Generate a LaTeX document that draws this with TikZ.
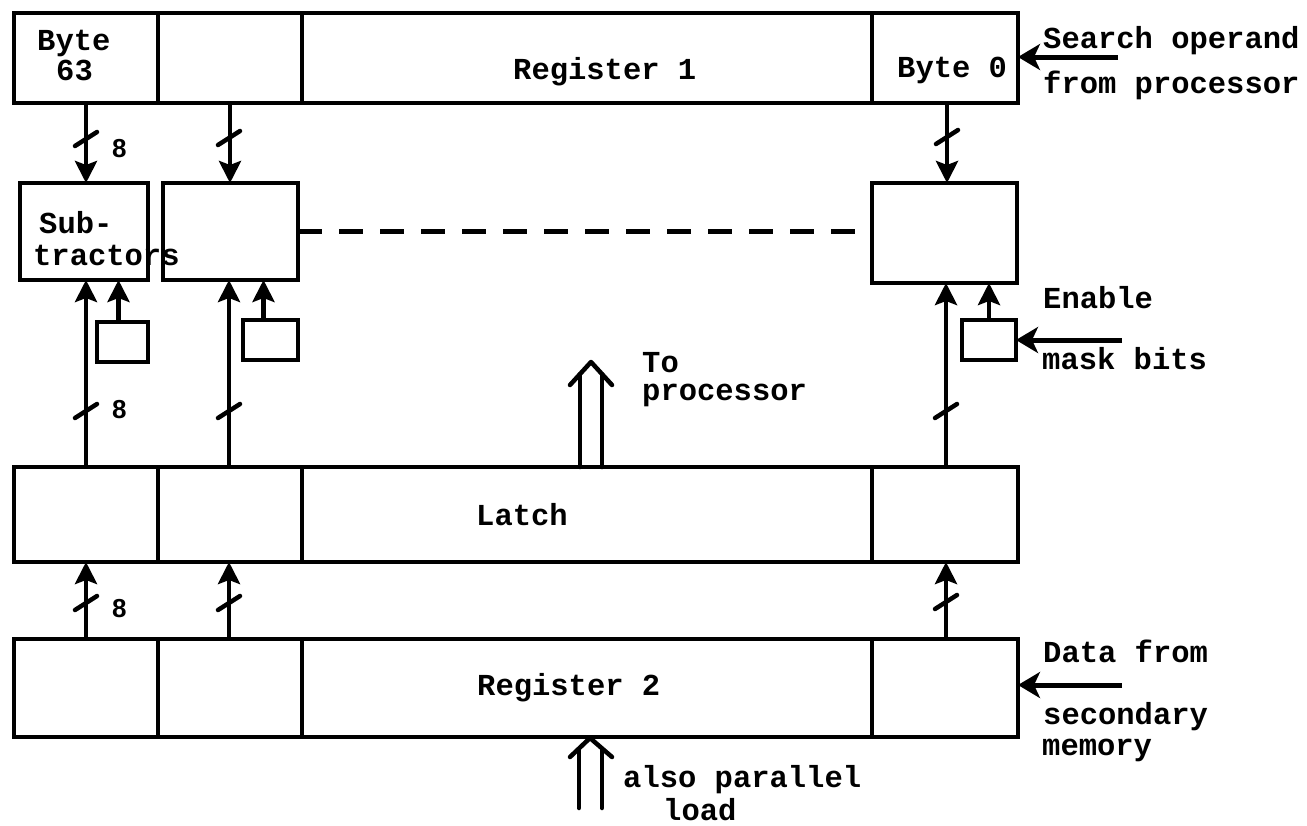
\documentclass[tikz,border=0pt]{standalone}
\usepackage{fontspec}
\setmonofont{Liberation Mono}
\newfontfamily\labfont{Liberation Sans}
\usetikzlibrary{arrows.meta,calc}
\tikzset{
 cell/.style={draw, line width=4.5pt, rectangle, inner sep=0pt, outer sep=0pt},
 bus/.style={line width=4.5pt, -{Stealth[length=22pt,width=22pt,inset=4pt]}},
 slashmark/.style={line width=4.5pt, line cap=round},
 txt/.style={font=\fontsize{30.5}{36}\selectfont\ttfamily\bfseries, inner sep=0pt, anchor=base west},
 num/.style={font=\fontsize{26}{30}\selectfont\labfont\bfseries, inner sep=0pt, anchor=base west},
 inarrow/.style={line width=5pt, -{Stealth[length=22pt,width=26pt,inset=6pt]}},
 dbl/.style={line width=4.5pt, line cap=round, line join=round},
 dashline/.style={line width=4.5pt, dash pattern=on 24pt off 17pt},
}
\begin{document}
\begin{tikzpicture}[x=1pt,y=-1pt]
\useasboundingbox (0,0) rectangle (1307,825);
% Register 1
\node[cell, minimum width=144pt, minimum height=90pt] (r1a) at (86,58) {};
\node[cell, minimum width=144pt, minimum height=90pt] (r1b) at (230,58) {};
\node[cell, minimum width=570pt, minimum height=90pt] (r1c) at (587,58) {};
\node[cell, minimum width=146pt, minimum height=90pt] (r1d) at (945,58) {};
% Latch
\node[cell, minimum width=144pt, minimum height=95pt] (la) at (86,514.5) {};
\node[cell, minimum width=144pt, minimum height=95pt] (lb) at (230,514.5) {};
\node[cell, minimum width=570pt, minimum height=95pt] (lc) at (587,514.5) {};
\node[cell, minimum width=146pt, minimum height=95pt] (ld) at (945,514.5) {};
% Register 2
\node[cell, minimum width=144pt, minimum height=98pt] (r2a) at (86,688) {};
\node[cell, minimum width=144pt, minimum height=98pt] (r2b) at (230,688) {};
\node[cell, minimum width=570pt, minimum height=98pt] (r2c) at (587,688) {};
\node[cell, minimum width=146pt, minimum height=98pt] (r2d) at (945,688) {};
% Subtractors
\node[cell, minimum width=128pt, minimum height=97pt] (s1) at (84,231.5) {};
\node[cell, minimum width=135pt, minimum height=97pt] (s2) at (230.5,231.5) {};
\node[cell, minimum width=145pt, minimum height=100pt] (s3) at (944.5,233) {};
% mask boxes
\node[cell, minimum width=51pt, minimum height=40pt] (m1) at (122.5,342) {};
\node[cell, minimum width=55pt, minimum height=40pt] (m2) at (270.5,340) {};
\node[cell, minimum width=54pt, minimum height=40pt] (m3) at (989,340) {};

% dashed line
\draw[dashline] (s2.east) -- (s2.east -| s3.west);

% Register1 -> subtractors
\draw[bus] (r1a.south) -- (r1a.south |- s1.north);
\draw[bus] (r1b.south) -- (r1b.south |- s2.north);
\draw[bus] ([xshift=2pt]r1d.south) -- ([xshift=2pt]r1d.south |- s3.north);
% Latch -> subtractors
\draw[bus] (la.north) -- (la.north |- s1.south);
\draw[bus] ([xshift=-1pt]lb.north) -- ([xshift=-1pt]lb.north |- s2.south);
\draw[bus] ([xshift=1pt]ld.north) -- ([xshift=1pt]ld.north |- s3.south);
% mask boxes -> subtractors
\draw[bus] ([xshift=-4pt]m1.north) -- ([xshift=-4pt]m1.north |- s1.south);
\draw[bus] ([xshift=-7pt]m2.north) -- ([xshift=-7pt]m2.north |- s2.south);
\draw[bus] (m3.north) -- (m3.north |- s3.south);
% Register2 -> latch
\draw[bus] (r2a.north) -- (r2a.north |- la.south);
\draw[bus] ([xshift=-1pt]r2b.north) -- ([xshift=-1pt]r2b.north |- lb.south);
\draw[bus] ([xshift=1pt]r2d.north) -- ([xshift=1pt]r2d.north |- ld.south);

% slash marks
\foreach \x/\y in {86/139, 229/138, 947/137, 86/411, 229/411, 946/411, 86/603, 229/603, 946/602}
  \draw[slashmark] (\x-11,\y+7) -- (\x+11,\y-7);

% incoming arrows
\coordinate (so) at (1118,57);
\draw[inarrow] (so) -- (so -| r1d.east);
\coordinate (em) at (1122,340);
\draw[inarrow] (em) -- (em -| m3.east);
\coordinate (df) at (1122,685);
\draw[inarrow] (df) -- (df -| r2d.east);

% To processor double arrow
\coordinate (tp) at (591,362);
\draw[dbl] (580,467) -- (580,374);
\draw[dbl] (602,467) -- (602,374);
\draw[dbl] (570,385) -- (tp) -- (612,385);
% parallel load double arrow
\coordinate (pl) at (590,738);
\draw[dbl] (579,808) -- (579,749);
\draw[dbl] (602,808) -- (602,749);
\draw[dbl] (570,757) -- (pl) -- (612,757);

% texts
\node[txt] (tb63a) at (37,50) {Byte};
\node[txt] (tb63b) at (56,80) {63};
\node[txt] (tr1) at (513,79) {Register 1};
\node[txt] (tb0) at (897,77) {Byte 0};
\node[txt] (tso1) at (1043,48) {Search operand};
\node[txt] (tso2) at (1043,93) {from processor};
\node[txt] (tsub1) at (39,233) {Sub-};
\node[txt] (tsub2) at (33,265) {tractors};
\node[txt] (ten1) at (1043,308) {Enable};
\node[txt] (ten2) at (1042,369) {mask bits};
\node[txt] (ttp1) at (642,372) {To};
\node[txt] (ttp2) at (642,400) {processor};
\node[txt] (tla) at (476,525) {Latch};
\node[txt] (tr2) at (477,695) {Register 2};
\node[txt] (tdf1) at (1043,662) {Data from};
\node[txt] (tdf2) at (1043,724) {secondary};
\node[txt] (tdf3) at (1042,755) {memory};
\node[txt] (tpl1) at (623,787) {also parallel};
\node[txt] (tpl2) at (663,820) {load};
\node[num] (n1) at (112,157) {8};
\node[num] (n2) at (112,418) {8};
\node[num] (n3) at (112,617) {8};
\end{tikzpicture}
\end{document}
